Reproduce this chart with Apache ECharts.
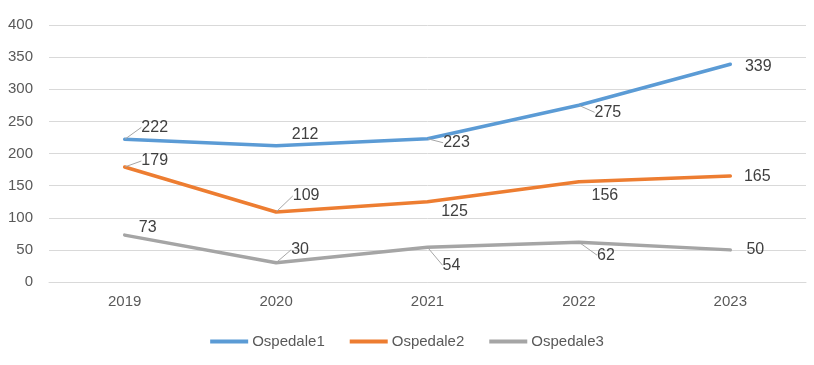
<!DOCTYPE html>
<html><head><meta charset="utf-8">
<script src="https://cdn.jsdelivr.net/npm/echarts@6/dist/echarts.min.js"></script>
<style>html,body{margin:0;padding:0;background:#fff}#c{width:814px;height:365px}</style>
</head><body><div id="c"></div>
<script>
const categories = ['2019','2020','2021','2022','2023'];
const seriesNames = ['Ospedale1','Ospedale2','Ospedale3'];
const ospedale1 = [222, 212, 223, 275, 339];
const ospedale2 = [179, 109, 125, 156, 165];
const ospedale3 = [73, 30, 54, 62, 50];
const colors = ['#5B9BD5','#ED7D31','#A5A5A5'];
// label center offsets from the point (style only)
const labelOffsets = [
  [[30,-12],[29,-11],[29,4],[29,7],[28,2]],
  [[30,-6],[30,-16],[27,10],[26,14],[27,1]],
  [[23,-8],[24,-13],[24,18],[27,13],[25,0]]
];
// which labels show a leader line (style only)
const leaders = [
  [true,false,true,true,false],
  [true,true,false,false,false],
  [false,true,true,true,false]
];
const font = '"Liberation Sans", Arial, sans-serif';
const chart = echarts.init(document.getElementById('c'));
const values = [ospedale1, ospedale2, ospedale3];
chart.setOption({
  animation:false,
  color: colors,
  grid:{left:49,right:8,top:25,bottom:83,containLabel:false},
  xAxis:{type:'category',data:categories,boundaryGap:true,
    axisLine:{show:true,lineStyle:{color:'#D9D9D9'}},axisTick:{show:false},
    axisLabel:{color:'#595959',fontSize:15,fontFamily:font,margin:12}},
  yAxis:{type:'value',min:0,max:400,interval:50,
    axisLine:{show:false},axisTick:{show:false},
    splitLine:{lineStyle:{color:'#D9D9D9',width:1}},
    axisLabel:{color:'#595959',fontSize:15,fontFamily:font,margin:16}},
  legend:{bottom:11,left:'center',icon:'rect',itemWidth:38,itemHeight:4,itemGap:25,
    textStyle:{color:'#595959',fontSize:15,fontFamily:font,padding:[0,0,0,-1]},
    data:seriesNames},
  series: values.map((v,i)=>({
    name:seriesNames[i],type:'line',
    data:v.map((val,j)=>({value:val,labelLine:{show:leaders[i][j]}})),
    symbol:'circle',symbolSize:1,showSymbol:true,
    lineStyle:{width:3.5,color:colors[i],cap:'round',join:'round'},
    itemStyle:{color:colors[i]},
    label:{show:true,position:'right',color:'#404040',fontSize:16,fontFamily:font},
    labelLine:{show:true,lineStyle:{color:'#A6A6A6',width:1}},
    labelLayout:function(p){
      const o = labelOffsets[p.seriesIndex][p.dataIndex];
      const cx = p.rect.x + p.rect.width/2, cy = p.rect.y + p.rect.height/2;
      return {x:cx+o[0], y:cy+o[1], align:'center', verticalAlign:'middle'};
    }
  }))
});
</script></body></html>
